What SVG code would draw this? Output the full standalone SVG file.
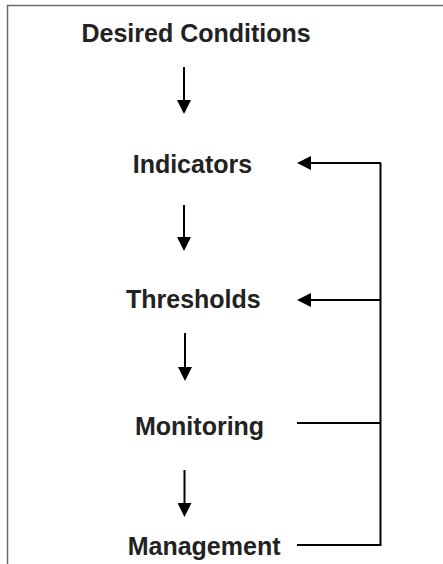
<svg xmlns="http://www.w3.org/2000/svg" width="443" height="564" viewBox="0 0 443 564">
<style>
.lbl{font-family:"Liberation Sans",Arial,sans-serif;font-weight:bold;font-size:25px;fill:#222}
.c{stroke:#000;stroke-width:2;fill:none}
.frame{stroke:#6a6a6a;stroke-width:1.5;fill:none}
</style>
<defs>
<marker id="ah" viewBox="0 0 14 14" markerWidth="14" markerHeight="14" markerUnits="userSpaceOnUse" refX="6" refY="7" orient="auto">
<path d="M0,0 L14,7 L0,14 z" fill="#000"/>
</marker>
</defs>
<rect width="443" height="564" fill="#fff"/>
<path class="frame" d="M7.5,564 V5.5 H443"/>
<g id="desired"><text class="lbl" x="81.5" y="42.3">Desired Conditions</text></g>
<g id="indicators"><text class="lbl" x="132.7" y="173.3">Indicators</text></g>
<g id="thresholds"><text class="lbl" x="126" y="308.3">Thresholds</text></g>
<g id="monitoring"><text class="lbl" x="135" y="435">Monitoring</text></g>
<g id="management"><text class="lbl" x="127.7" y="555">Management</text></g>
<g id="connectors">
<line class="c" x1="184" y1="67" x2="184" y2="106" marker-end="url(#ah)"/>
<line class="c" x1="184" y1="205" x2="184" y2="243" marker-end="url(#ah)"/>
<line class="c" x1="185" y1="333" x2="185" y2="373" marker-end="url(#ah)"/>
<line class="c" x1="184.5" y1="470" x2="184.5" y2="509" marker-end="url(#ah)"/>
<path class="c" d="M297,423 H380.5 M297,545 H380.5 M380.5,163 V546"/>
<line class="c" x1="381" y1="163" x2="305" y2="163" marker-end="url(#ah)"/>
<line class="c" x1="381" y1="300" x2="305" y2="300" marker-end="url(#ah)"/>
</g>
</svg>
